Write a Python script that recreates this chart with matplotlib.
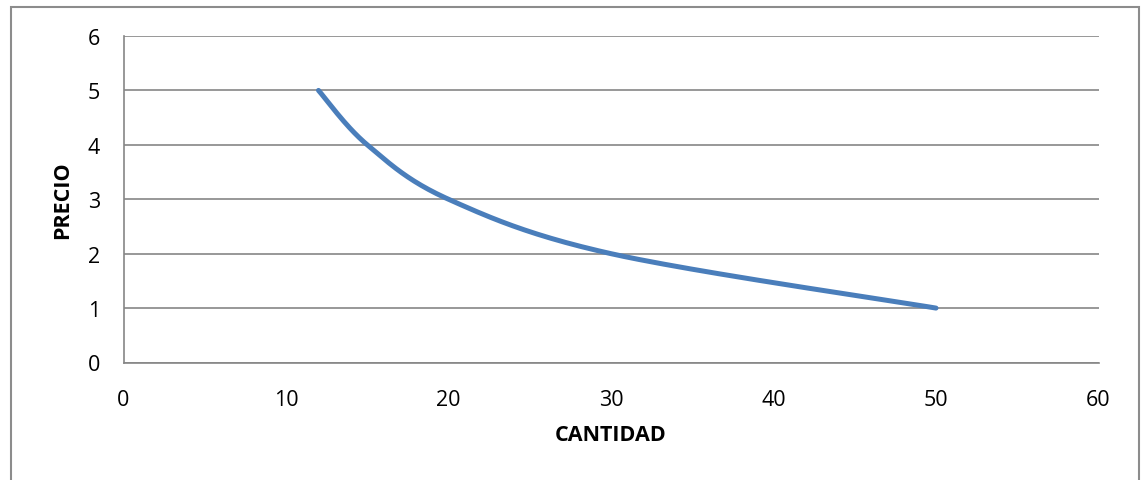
# curva de demanda: precio vs cantidad
import numpy as np
import matplotlib.pyplot as plt
from matplotlib.patches import Rectangle

plt.rcParams['font.family'] = ['Open Sans', 'DejaVu Sans']

# datos
cantidad = [12, 15, 20, 30, 50]
precio = [5, 4, 3, 2, 1]


# linea suavizada tipo Excel (bezier con puntos de control de los vecinos)
def suavizar(xs, ys, n=40):
    xs = np.asarray(xs, float)
    ys = np.asarray(ys, float)
    px = np.concatenate([[xs[0]], xs, [xs[-1]]])
    py = np.concatenate([[ys[0]], ys, [ys[-1]]])
    out_x, out_y = [], []
    t = np.linspace(0, 1, n)
    for i in range(1, len(px) - 2):
        p0 = np.array([px[i], py[i]])
        p3 = np.array([px[i + 1], py[i + 1]])
        c1 = p0 + (np.array([px[i + 1], py[i + 1]]) - np.array([px[i - 1], py[i - 1]])) / 6
        c2 = p3 - (np.array([px[i + 2], py[i + 2]]) - np.array([px[i], py[i]])) / 6
        b = ((1 - t) ** 3)[:, None] * p0 + (3 * (1 - t) ** 2 * t)[:, None] * c1 \
            + (3 * (1 - t) * t ** 2)[:, None] * c2 + (t ** 3)[:, None] * p3
        out_x.extend(b[:, 0])
        out_y.extend(b[:, 1])
    return out_x, out_y


fig = plt.figure(figsize=(11.46, 4.81), dpi=100)
ax = fig.add_axes([123.5 / 1146, 1 - 363.5 / 481, (1098.5 - 123.5) / 1146, (363.5 - 37) / 481])

# marco del grafico
fig.patches.append(Rectangle((11 / 1146, -0.05), 1128 / 1146, 1.05 - 7.5 / 481,
                             transform=fig.transFigure, fill=False,
                             edgecolor='#8c8c8c', linewidth=1.5))

sx, sy = suavizar(cantidad, precio)
ax.plot(sx, sy, color='#4a7ebb', linewidth=3.6, solid_capstyle='round', zorder=3)

ax.set_xlim(0, 60)
ax.set_ylim(0, 6)
ax.set_xticks(range(0, 61, 10))
ax.set_yticks(range(0, 7, 1))
ax.grid(axis='y', color='#868686', linewidth=1.2)
ax.set_axisbelow(True)
for lado in ['top', 'right']:
    ax.spines[lado].set_visible(False)
for lado in ['left', 'bottom']:
    ax.spines[lado].set_color('#868686')
    ax.spines[lado].set_linewidth(1.2)
ax.tick_params(length=0, labelsize=15.5)
ax.tick_params(axis='x', pad=19)
ax.tick_params(axis='y', pad=17)

ax.set_xlabel('CANTIDAD', fontsize=15.5, fontweight='bold', labelpad=10)
ax.set_ylabel('PRECIO', fontsize=15.5, fontweight='bold', labelpad=10)

fig.savefig('out.png', dpi=100)
